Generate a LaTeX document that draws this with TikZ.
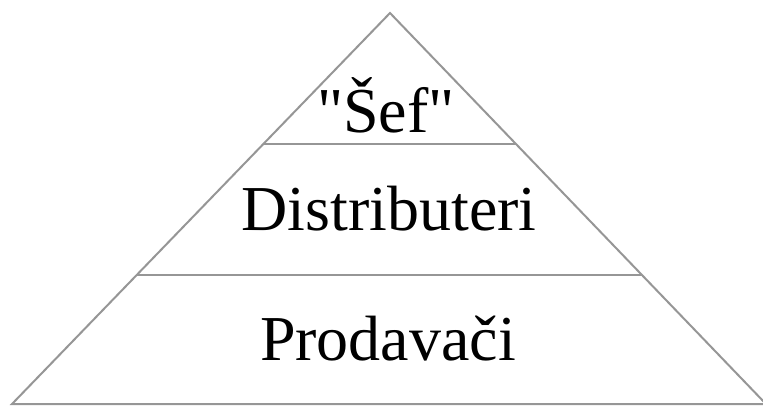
\documentclass[tikz,border=0pt]{standalone}
\usepackage{fontspec}
\newfontfamily\tierfont{Liberation Serif}
\usepackage{tikz}
\usetikzlibrary{positioning,calc}
\definecolor{edgegray}{RGB}{150,150,150}

\begin{document}
\begin{tikzpicture}[
    x=1pt, y=-1pt,
    edge/.style={draw=edgegray, line width=2pt, line join=miter},
    tier/.style={anchor=base, inner sep=0pt, font=\tierfont\fontsize{64}{64}\selectfont}
]
    \useasboundingbox (0,0) rectangle (763,405);

    % Corners
    \coordinate (apex) at (390,13);
    \coordinate (left) at (12,404);
    \coordinate (right) at (766,404);

    % Outline
    \draw[edge] (left) -- (apex) -- (right) -- cycle;

    % Tier lines
    \coordinate (l1) at ($(apex)!0.335!(left)$);
    \coordinate (r1) at ($(apex)!0.335!(right)$);
    \coordinate (l2) at ($(apex)!0.67!(left)$);
    \coordinate (r2) at ($(apex)!0.67!(right)$);
    \draw[edge] (l1) -- (r1);
    \draw[edge] (l2) -- (r2);

    % Labels
    \node[tier] (sef) at (386,132) {"Šef"};
    \node[tier] (dist) at (389,230) {Distributeri};
    \node[tier] (prod) at (388,360) {Prodavači};
\end{tikzpicture}
\end{document}
